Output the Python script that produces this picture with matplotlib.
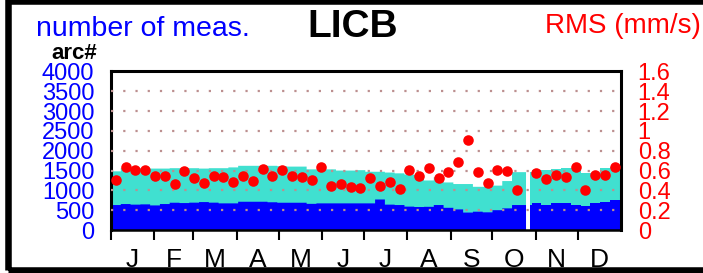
import numpy as np
import matplotlib
matplotlib.use("Agg")
import matplotlib.pyplot as plt
from matplotlib.patches import Rectangle

plt.rcParams["font.family"] = ["Liberation Sans", "DejaVu Sans"]

# weekly values (52 weeks)
meas_all = [1480, 1560, 1560, 1560, 1550, 1550, 1560, 1560, 1560, 1550,
            1560, 1560, 1580, 1620, 1620, 1620, 1620, 1610, 1600, 1600,
            1530, 1530, 1530, 1500, 1500, 1510, 1470, 1470, 1450, 1430,
            1400, 1390, 1250, 1330, 1200, 1160, 1160, 1090, 1090, 1120,
            1235, 1460, 1460, 1510, 1510, 1540, 1555, 1555, 1430, 1430,
            1570, 1600]
meas_used = [630, 655, 640, 647, 620, 655, 688, 680, 690, 705,
             690, 672, 672, 713, 713, 713, 700, 688, 688, 688,
             660, 672, 672, 672, 672, 672, 672, 770, 640, 630,
             590, 580, 585, 630, 560, 520, 440, 462, 446, 500,
             546, 630, 630, 688, 620, 688, 670, 620, 605, 672,
             713, 756]
rms = [0.503, 0.634, 0.607, 0.607, 0.546, 0.543, 0.466, 0.600, 0.520, 0.473,
       0.550, 0.530, 0.480, 0.546, 0.490, 0.614, 0.546, 0.604, 0.546, 0.533,
       0.503, 0.641, 0.440, 0.460, 0.433, 0.426, 0.526, 0.443, 0.486, 0.410,
       0.604, 0.550, 0.624, 0.520, 0.587, 0.684, 0.905, 0.587, 0.476, 0.610,
       0.594, 0.400, np.nan, 0.580, 0.516, 0.553, 0.530, 0.641, 0.400, 0.556,
       0.560, 0.634]
gap_days = [298, 299]  # days with no data

months = ["J", "F", "M", "A", "M", "J", "J", "A", "S", "O", "N", "D"]
month_len = [31, 28, 31, 30, 31, 30, 31, 31, 30, 31, 30, 31]
left_ticks = np.arange(0, 4001, 500)
right_ticks = [0, 0.2, 0.4, 0.6, 0.8, 1, 1.2, 1.4, 1.6]

BLUE = "#0000ff"
TEAL = "#40e0d0"
RED = "#ff0000"

# expand weekly values to days so missing days can be blanked
days = np.arange(len(meas_all) * 7 + 1)
all_d = np.append(np.repeat(meas_all, 7), meas_all[-1]).astype(float)
used_d = np.append(np.repeat(meas_used, 7), meas_used[-1]).astype(float)
all_d[gap_days] = np.nan
used_d[gap_days] = np.nan
week_mid = np.arange(len(rms)) * 7 + 3.5

fig = plt.figure(figsize=(7.03, 2.73), dpi=100)
ax = fig.add_axes([0.1579, 0.1575, 0.8834 - 0.1579, 0.7381 - 0.1575])

ax.fill_between(days, 0, all_d, step="post", color=TEAL, lw=0, zorder=1)
ax.fill_between(days, 0, used_d, step="post", color=BLUE, lw=0, zorder=2)
for v in left_ticks[1:-1]:
    ax.axhline(v, color="#bc8f8f", lw=1.6, ls=(0, (1, 4.5)), zorder=3)

ax.set_xlim(0, 365)
ax.set_ylim(0, 4000)
ax.set_yticks(left_ticks)
ax.set_yticklabels([str(v) for v in left_ticks], color=BLUE, fontsize=17)
ax.tick_params(axis="y", length=0, pad=12)

starts = np.concatenate([[0], np.cumsum(month_len)[:-1]])
mids = starts + np.array(month_len) / 2
ax.set_xticks(starts)
ax.set_xticklabels([])
ax.tick_params(axis="x", which="major", direction="out", length=7.5, width=1.5)
ax.set_xticks(mids, minor=True)
ax.set_xticklabels(months, minor=True, fontsize=19)
ax.tick_params(axis="x", which="minor", length=0, pad=13)

for s in ["left", "top", "right"]:
    ax.spines[s].set_linewidth(2.2)
ax.spines["bottom"].set_linewidth(1.8)

ax2 = ax.twinx()
ax2.plot(week_mid, rms, "o", color=RED, ms=7.6, mec="none", zorder=5)
ax2.set_ylim(0, 1.6)
ax2.set_yticks(right_ticks)
ax2.set_yticklabels(["%g" % v for v in right_ticks], color=RED, fontsize=17)
ax2.tick_params(axis="y", length=0, pad=12)
for s in ax2.spines.values():
    s.set_visible(False)

fig.text(36 / 703, 1 - 36 / 273, "number of meas.", color=BLUE, fontsize=20.5,
         ha="left", va="baseline")
fig.text(353 / 703, 1 - 37 / 273, "LICB", color="black", fontsize=28,
         fontweight="bold", ha="center", va="baseline")
fig.text(701 / 703, 1 - 33 / 273, "RMS (mm/s)", color=RED, fontsize=20,
         ha="right", va="baseline")
fig.text(51 / 703, 1 - 59 / 273, "arc#", color="black", fontsize=16,
         fontweight="bold", ha="left", va="baseline")

fig.patches.append(Rectangle((8.3 / 703, 3 / 273), (706 - 8.3) / 703,
                             (270 - 0.7) / 273, transform=fig.transFigure,
                             fill=False, ec="black", lw=4.7, zorder=10))

fig.savefig("out.png", dpi=100)
